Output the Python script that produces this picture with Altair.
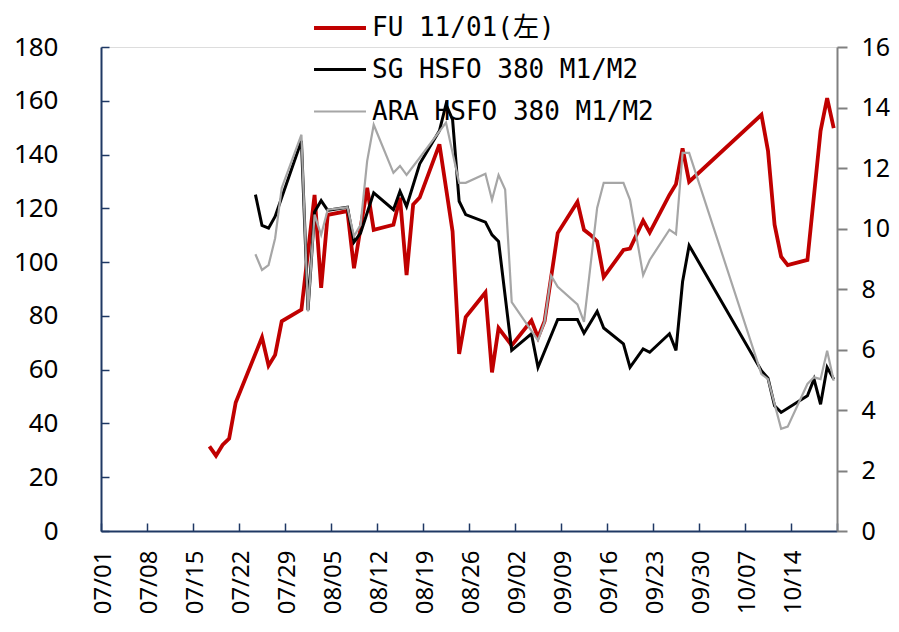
import altair as alt
import pandas as pd

series_names = ["FU 11/01(左)", "SG HSFO 380 M1/M2", "ARA HSFO 380 M1/M2"]
series_colors = ["#C00000", "#000000", "#A6A6A6"]
series_widths = [3.8, 2.2, 2.5]

fu_dates = ["07-17", "07-18", "07-19", "07-20", "07-21", "07-25", "07-26", "07-27", "07-28",
            "07-31", "08-02", "08-03", "08-04", "08-07", "08-08", "08-10", "08-11", "08-14",
            "08-15", "08-16", "08-17", "08-18", "08-21", "08-23", "08-24", "08-25", "08-28",
            "08-29", "08-30", "09-01", "09-04", "09-05", "09-06", "09-08", "09-11", "09-12",
            "09-13", "09-14", "09-15", "09-18", "09-19", "09-21", "09-22", "09-25", "09-26",
            "09-27", "09-28", "10-09", "10-10", "10-11", "10-12", "10-13", "10-16", "10-18",
            "10-19", "10-20"]
fu_values = [31.5, 28, 32, 34.4, 47.8, 72, 61.5, 65.5, 78, 82.3, 125, 90.4, 117.6, 119, 97.7,
             127.6, 112, 113.9, 124, 95.2, 121.4, 124, 143.8, 111.4, 65.9, 79.6, 88.7, 59, 75.5,
             69, 78.3, 72, 78, 110.8, 122.4, 112, 110.1, 107.7, 94.4, 104.5, 105, 115.4, 111,
             125, 129, 142.3, 129.9, 154.8, 141.4, 113.9, 102, 98.9, 100.8, 148.8, 161, 149.8]

sg_dates = ["07-24", "07-25", "07-26", "07-27", "07-31", "08-01", "08-02", "08-03", "08-04",
            "08-07", "08-08", "08-09", "08-11", "08-14", "08-15", "08-16", "08-18", "08-21",
            "08-22", "08-23", "08-24", "08-25", "08-28", "08-29", "08-30", "09-01", "09-04",
            "09-05", "09-08", "09-11", "09-12", "09-14", "09-15", "09-18", "09-19", "09-21",
            "09-22", "09-25", "09-26", "09-27", "09-28", "10-09", "10-10", "10-11", "10-12",
            "10-16", "10-17", "10-18", "10-19", "10-20"]
sg_values = [11.12, 10.1, 10.01, 10.4, 12.9, 7.3, 10.55, 10.92, 10.6, 10.7, 9.55, 9.85, 11.18,
             10.62, 11.23, 10.73, 12.14, 13.23, 14.1, 13.6, 10.9, 10.46, 10.21, 9.79, 9.57, 5.97,
             6.52, 5.41, 6.99, 6.99, 6.54, 7.26, 6.71, 6.19, 5.41, 6.02, 5.91, 6.52, 5.97, 8.24,
             9.44, 5.3, 5.05, 4.14, 3.92, 4.47, 5.02, 4.19, 5.41, 5.02]

ara_dates = ["07-24", "07-25", "07-26", "07-27", "07-28", "07-31", "08-01", "08-02", "08-03",
             "08-04", "08-07", "08-08", "08-09", "08-10", "08-11", "08-14", "08-15", "08-16",
             "08-18", "08-22", "08-24", "08-25", "08-28", "08-29", "08-30", "08-31", "09-01",
             "09-05", "09-06", "09-07", "09-08", "09-11", "09-12", "09-14", "09-15", "09-18",
             "09-19", "09-21", "09-22", "09-25", "09-26", "09-27", "09-28", "10-09", "10-10",
             "10-12", "10-13", "10-16", "10-17", "10-18", "10-19", "10-20"]
ara_values = [9.15, 8.63, 8.79, 9.68, 11.34, 13.1, 7.26, 10.46, 9.79, 10.62, 10.7, 9.74, 10.12,
              12.23, 13.43, 11.84, 12.07, 11.77, 12.34, 13.5, 11.51, 11.51, 11.81, 10.95, 11.77,
              11.29, 7.57, 6.3, 6.91, 8.44, 8.07, 7.49, 6.91, 10.68, 11.51, 11.51, 10.95, 8.46,
              8.96, 9.96, 9.81, 12.5, 12.5, 5.19, 5.02, 3.38, 3.45, 4.86, 5.08, 5.02, 5.96, 4.97]

x_tick_dates = ["07-01", "07-08", "07-15", "07-22", "07-29", "08-05", "08-12", "08-19",
                "08-26", "09-02", "09-09", "09-16", "09-23", "09-30", "10-07", "10-14"]
left_ticks = [0, 20, 40, 60, 80, 100, 120, 140, 160, 180]
right_ticks = [0, 2, 4, 6, 8, 10, 12, 14, 16]
year = 2023


def table(dates, values, name):
    return pd.DataFrame({
        "date": [f"{year}-{d}T12:00:00" for d in dates],
        "value": values,
        "series": name,
    })


def dt(md):
    m, d = md.split("-")
    return alt.DateTime(year=year, month=int(m), date=int(d))


left_df = table(fu_dates, fu_values, series_names[0])
right_df = pd.concat([table(sg_dates, sg_values, series_names[1]),
                      table(ara_dates, ara_values, series_names[2])], ignore_index=True)

NAVY = "#1F3864"
AXFONT = "Noto Sans"
x_scale = alt.Scale(domain=[dt("07-01"), dt("10-21")])
x_values = [dt(d) for d in x_tick_dates]

x_enc = alt.X(
    "date:T",
    scale=x_scale,
    axis=alt.Axis(
        values=x_values, format="%m/%d", labelAngle=-90, labelBaseline="middle",
        labelAlign="right", labelOffset=2,
        labelFont=AXFONT, labelFontSize=24, labelColor="#000000", labelPadding=19,
        domainColor=NAVY, domainWidth=2, tickSize=0, grid=False, title=None,
        labelOverlap=False, labelFlush=False,
    ),
)
x_enc_plain = alt.X("date:T", scale=x_scale, axis=None)

color_enc = alt.Color(
    "series:N",
    scale=alt.Scale(domain=series_names, range=series_colors),
    legend=alt.Legend(
        orient="none", legendX=211, legendY=-47, title=None, direction="vertical",
        symbolType="stroke", symbolSize=2700, symbolStrokeWidth=2.8,
        labelFont="DejaVu Sans Mono, Noto Sans CJK SC", labelFontSize=26, labelColor="#000000",
        labelLimit=600, rowPadding=1, labelOffset=4,
    ),
)
width_enc = alt.StrokeWidth(
    "series:N", scale=alt.Scale(domain=series_names, range=series_widths), legend=None
)

left = alt.Chart(left_df).mark_line(strokeJoin="miter").encode(
    x=x_enc,
    y=alt.Y("value:Q", scale=alt.Scale(domain=[0, 180]),
            axis=alt.Axis(orient="left", values=left_ticks, labelFont=AXFONT,
                          labelFontSize=26, labelColor="#000000", labelPadding=43,
                          domainColor=NAVY, domainWidth=2, tickSize=0, grid=False,
                          title=None)),
    color=color_enc,
    strokeWidth=width_enc,
)

right = alt.Chart(right_df).mark_line(strokeJoin="miter").encode(
    x=x_enc_plain,
    y=alt.Y("value:Q", scale=alt.Scale(domain=[0, 16]),
            axis=alt.Axis(orient="right", values=right_ticks, labelFont=AXFONT,
                          labelFontSize=25, labelColor="#000000", labelPadding=14,
                          domainColor="#808080", domainWidth=2, tickColor="#808080",
                          tickWidth=2, tickSize=10, grid=False, title=None)),
    color=color_enc,
    strokeWidth=width_enc,
)

# invisible layer that only carries the inward-pointing tick marks of the left and bottom axes
ticks_layer = alt.Chart(left_df).mark_line(opacity=0).encode(
    x=alt.X("date:T", scale=x_scale,
            axis=alt.Axis(orient="bottom", values=x_values + [dt("10-21")], offset=-8,
                          tickSize=8, tickColor=NAVY, tickWidth=1.5, labels=False,
                          domain=False, grid=False, title=None)),
    y=alt.Y("value:Q", scale=alt.Scale(domain=[0, 180]),
            axis=alt.Axis(orient="left", values=left_ticks, offset=-8, tickSize=8,
                          tickColor=NAVY, tickWidth=1.5, labels=False, domain=False,
                          grid=False, title=None)),
)

chart = alt.layer(left, right, ticks_layer).resolve_scale(
    y="independent"
).resolve_axis(x="independent").properties(
    width=736, height=484,
    autosize=alt.AutoSizeParams(type="none"),
    padding={"left": 93, "top": 39, "right": 54, "bottom": 90},
).configure_view(stroke=None).configure(background="#FFFFFF")

chart.save("out.html", embed_options={"renderer": "svg", "actions": False})
